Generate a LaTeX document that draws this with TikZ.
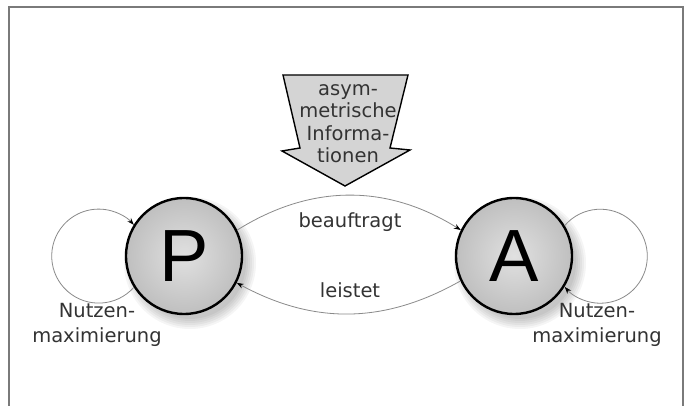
\documentclass[tikz,border=0pt]{standalone}
\usepackage{fontspec}
\setmainfont{DejaVu Sans}
\newfontfamily\letterfont{Liberation Sans}
\usetikzlibrary{arrows.meta}
\definecolor{txt}{HTML}{333333}
\definecolor{linegray}{HTML}{8A8A8A}
\definecolor{framegray}{HTML}{7A7A7A}
\definecolor{blockfill}{HTML}{D4D4D4}
\begin{document}
\begin{tikzpicture}[x=1pt,y=1pt,
  actor/.style={circle, minimum size=116pt, inner sep=0pt, draw=black, line width=2.4pt,
    inner color=black!12, outer color=black!25,
    font=\letterfont\fontsize{74}{74}\selectfont},
  label/.style={text=txt, align=center, inner sep=0pt,
    font=\fontsize{19.5}{24.5}\selectfont},
  flow/.style={draw=linegray, line width=0.8pt,
    -{Stealth[length=7pt,width=5pt,black]}},
  blocktext/.style={text=txt, align=center, inner sep=0pt,
    font=\fontsize{19.5}{22.5}\selectfont}]
\useasboundingbox (0,0) rectangle (685,406);
\fill[white] (0,0) rectangle (685,406);
% outer frame
\draw[framegray, line width=1.4pt] (9,-5) rectangle (683,399);

% soft shadows behind the two actors
\foreach \c in {(190,143),(520,143)}{
  \foreach \r in {56,58,...,66}{
    \fill[black, opacity=0.04] \c circle[radius=\r];
  }
}

% the two actors
\node[actor] (P) at (184,150) {P};
\node[actor] (A) at (514,150) {A};

% self loops
\draw[flow] (P.212.6) arc[start angle=-41.7, end angle=-318.3, radius=47];
\draw[flow] (A.31.3) arc[start angle=139.2, end angle=-139.2, radius=47];

% exchange between the actors
\draw[flow] (P.26) to[bend left=32] (A.154);
\draw[flow] (A.205.7) to[bend left=29] (P.333);

\node[label] (auftrag) at (350,184) {beauftragt};
\node[label] (leistung) at (350,116) {leistet};
\node[label] (nutzenP) at (97,81) {Nutzen-\\maximierung};
\node[label] (nutzenA) at (597,81) {Nutzen-\\maximierung};

% block arrow with the information asymmetry
\draw[fill=blockfill, line width=1.4pt, line join=miter]
  (283,331) -- (408,331) -- (390,258) -- (410,256) -- (345,220)
  -- (282,255) -- (300,258) -- cycle;
\node[blocktext] (info) at (348,282.5) {asym-\\metrische\\Informa-\\tionen};
\end{tikzpicture}
\end{document}
